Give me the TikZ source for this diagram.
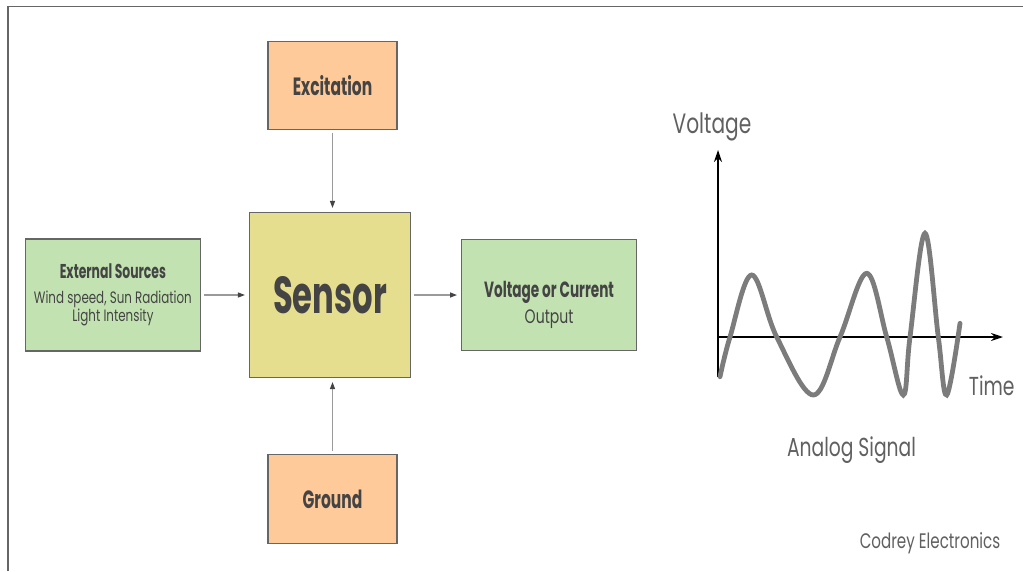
\documentclass[tikz,border=0pt]{standalone}
\usepackage{fontspec}
\setmainfont{Poppins}[FakeStretch=0.72]
\newfontfamily\headfont{Poppins}[FakeStretch=0.62]
\usepackage{xcolor}
\usetikzlibrary{arrows.meta,positioning}

\definecolor{peach}{HTML}{FFCA99}
\definecolor{sensorfill}{HTML}{E6DE8F}
\definecolor{leaf}{HTML}{C2E3B1}
\definecolor{edge}{HTML}{666666}
\definecolor{ink}{HTML}{444444}
\definecolor{linkgray}{HTML}{9A9A9A}
\definecolor{wave}{HTML}{7C7C7C}

\begin{document}
\begin{tikzpicture}[
  x=1pt,y=-1pt,
  box/.style={draw=edge,line width=1.1pt,inner sep=0pt,align=center,text=ink},
  link/.style={draw=linkgray,line width=1.3pt,-{Triangle[length=7pt,width=5pt,color=ink]},shorten >=4pt,shorten <=3pt},
  axis/.style={line width=1.6pt,-{Stealth[length=12pt,width=8pt]}},
  lbl/.style={text=ink!85,anchor=base,inner sep=0pt},
]
\useasboundingbox (0,0) rectangle (1023,571);
\draw[edge,line width=1.3pt] (8,571) -- (8,6.5) -- (1023,6.5);

% block diagram
\node[box,fill=sensorfill,minimum width=161pt,minimum height=165pt] (sensor) at (330,295) {\headfont\bfseries\fontsize{52}{52}\selectfont Sensor};
\node[box,fill=peach,minimum width=129pt,minimum height=88pt,above=82pt of sensor,xshift=2.5pt] (excite) {\headfont\bfseries\fontsize{25}{25}\selectfont Excitation};
\node[box,fill=peach,minimum width=129pt,minimum height=89pt,below=76pt of sensor,xshift=2.5pt] (ground) {\headfont\bfseries\fontsize{25}{25}\selectfont Ground};
\node[box,fill=leaf,minimum width=175pt,minimum height=112pt,left=48pt of sensor,font=\fontsize{16.5}{15.5}\selectfont] (ext) {{\headfont\bfseries\fontsize{20}{20}\selectfont External Sources}\\[9.5pt]Wind speed, Sun Radiation\\Light Intensity};
\node[box,fill=leaf,minimum width=175pt,minimum height=111pt,right=50pt of sensor] (out) {};
\node[text=ink,align=center,inner sep=0pt,font=\fontsize{19.5}{19.5}\selectfont] (outtext) at ([yshift=-10pt]out.center) {{\headfont\bfseries\fontsize{22}{22}\selectfont Voltage or Current}\\[5pt]Output};
\draw[link] (excite) -- (excite |- sensor.north);
\draw[link] (ground) -- (ground |- sensor.south);
\draw[link] (ext) -- (sensor);
\draw[link] (sensor) -- (out);

% analog signal
\coordinate (origin) at (718,337);
\draw[axis] (718,377) -- (718,150);
\draw[axis,line width=2pt] (origin) -- (1003,337);
\draw[wave,line width=4.8pt,line cap=round] plot[smooth,tension=0.6] coordinates {(720,376.7) (730,337) (751.7,275) (776.7,337) (813.3,395) (840,337) (866.7,273.3) (886.7,337) (903.3,395) (910,337) (925,233.3) (938.3,337) (946.7,395) (960,323.3)};
\node[lbl,font=\fontsize{28}{28}\selectfont] (vlabel) at (712,133) {Voltage};
\node[lbl,font=\fontsize{26}{26}\selectfont] (tlabel) at (991.7,395) {Time};
\node[lbl,font=\fontsize{26}{26}\selectfont] (caption) at (851.5,456) {Analog Signal};
\node[lbl,font=\fontsize{21}{21}\selectfont] (credit) at (930,548) {Codrey Electronics};
\end{tikzpicture}
\end{document}
